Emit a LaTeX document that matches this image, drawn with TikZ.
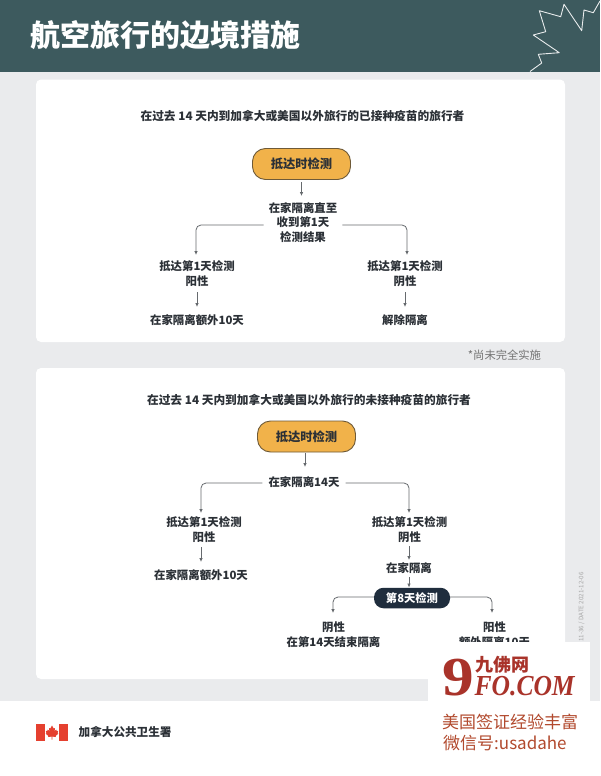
\documentclass[tikz,border=0pt]{standalone}
\usepackage{fontspec}
\setmainfont{Noto Sans CJK SC}
\newfontfamily\wmserif{Liberation Serif}
\usetikzlibrary{arrows.meta,calc}
\definecolor{headbg}{HTML}{3D5A5E}
\definecolor{pagebg}{HTML}{EAEBED}
\definecolor{inkc}{HTML}{2B3036}
\definecolor{linec}{HTML}{666A6E}
\definecolor{ambr}{HTML}{F1B24A}
\definecolor{ambre}{HTML}{6E5A38}
\definecolor{navyb}{HTML}{1F2D3D}
\definecolor{wmred}{HTML}{A9332A}
\definecolor{wmtxt}{HTML}{B24A2E}
\definecolor{flagred}{HTML}{E5402F}
\tikzset{
  panel/.style={fill=white,draw=none,rounded corners=5pt},
  lbl/.style={font=\fontsize{11.4}{14.4}\selectfont\bfseries,text=inkc,align=center,inner sep=0pt},
  heading/.style={font=\fontsize{11.7}{14}\selectfont\bfseries,text=inkc,inner sep=0pt},
  startbox/.style={draw=ambre,line width=0.9pt,fill=ambr,rounded corners=13pt,minimum width=98pt,minimum height=31pt,inner sep=0pt,font=\fontsize{12.3}{14}\selectfont\bfseries,text=inkc},
  darkbox/.style={fill=navyb,rounded corners=9.5pt,minimum width=76pt,minimum height=20.5pt,inner sep=0pt,font=\fontsize{11.3}{14}\selectfont\bfseries,text=white},
  conn/.style={draw=linec,line width=0.8pt,rounded corners=5pt,-{Latex[length=4pt,width=3.6pt]}},
}
\begin{document}
\begin{tikzpicture}[x=1pt,y=-1pt]
\useasboundingbox (0,0) rectangle (600,776);
\fill[white] (0,0) rectangle (600,776);
\fill[pagebg] (0,71) rectangle (600,700.5);
\fill[headbg] (0,0) rectangle (600,71.5);
\draw[white!88!headbg,line width=0.9pt,line join=round] (530,71.5)--(541.7,63)--(538.3,54.3)--(559.3,52.7)--(533.3,35)--(545.7,31.7)--(539.3,10.7)--(560.7,16.7)--(564,4.3)--(581.7,30.7)--(584,10)--(593.3,12.7)--(600,1);
\node[anchor=west,inner sep=0pt,text=white,font=\fontsize{30}{34}\selectfont\bfseries] (title) at (30.5,35) {航空旅行的边境措施};
\fill[panel] (36,79.5) rectangle (565,342);
\fill[panel] (36,368) rectangle (565,679);
\node[font=\fontsize{11.3}{14}\selectfont,text=black!55,inner sep=0pt] (note) at (504.5,355) {*尚未完全实施};
\node[rotate=90,anchor=east,inner sep=0pt,font=\fontsize{6.2}{7}\selectfont,text=black!35] (stamp) at (581.5,572) {11-36 / DATE 2021-12-06};

% first panel
\node[heading] (h1) at (302.5,116) {在过去 14 天内到加拿大或美国以外旅行的已接种疫苗的旅行者};
\node[startbox] (a1) at (301.5,164) {抵达时检测};
\node[lbl,inner xsep=5pt] (b1) at (303,222.5) {在家隔离直至\\收到第1天\\检测结果};
\node[lbl] (c1) at (197,273.5) {抵达第1天检测\\阳性};
\node[lbl] (d1) at (405,273.5) {抵达第1天检测\\阴性};
\node[lbl] (e1) at (197,320) {在家隔离额外10天};
\node[lbl] (f1) at (405,320) {解除隔离};
\coordinate (a1s) at (301.5,182);
\coordinate (a1e) at (301.5,196);
\coordinate (c1t) at (196,255);
\coordinate (d1t) at (407,255);
\coordinate (c1s) at (197,292);
\coordinate (e1t) at (197,307);
\coordinate (d1s) at (405,292);
\coordinate (f1t) at (405,307);
\draw[conn] (a1s) -- (a1e);
\draw[conn] ([yshift=-2.5pt]b1.west) -- ++(-30,0) -| (c1t);
\draw[conn] ([yshift=-2.5pt]b1.east) -- ++(30,0) -| (d1t);
\draw[conn] (c1s) -- (e1t);
\draw[conn] (d1s) -- (f1t);

% second panel
\node[heading] (h2) at (309,400) {在过去 14 天内到加拿大或美国以外旅行的未接种疫苗的旅行者};
\node[startbox] (a2) at (306.5,436.5) {抵达时检测};
\node[lbl,inner xsep=6pt] (b2) at (304,482) {在家隔离14天};
\node[lbl] (c2) at (204,529.5) {抵达第1天检测\\阳性};
\node[lbl] (d2) at (409.5,529.5) {抵达第1天检测\\阴性};
\node[lbl] (e2) at (201,575) {在家隔离额外10天};
\node[lbl] (f2) at (409,568) {在家隔离};
\node[darkbox] (g2) at (412,598) {第8天检测};
\node[lbl] (h2a) at (333.5,634.5) {阴性\\在第14天结束隔离};
\node[lbl] (i2) at (494.5,634.5) {阳性\\额外隔离10天};
\coordinate (a2s) at (305,453);
\coordinate (a2e) at (305,467);
\coordinate (c2t) at (201,513);
\coordinate (d2t) at (409,513);
\coordinate (e2t) at (201,562);
\coordinate (e2s) at (201,547);
\coordinate (d2s) at (409,546);
\coordinate (f2t) at (409,560);
\coordinate (f2s) at (409,577);
\coordinate (g2t) at (409,587.5);
\coordinate (h2t) at (333,613);
\coordinate (i2t) at (492,613);
\draw[conn] (a2s) -- (a2e);
\draw[conn] ([yshift=-1pt]b2.west) -| (c2t);
\draw[conn] ([yshift=-1pt]b2.east) -| (d2t);
\draw[conn] (e2s) -- (e2t);
\draw[conn] (d2s) -- (f2t);
\draw[conn] (f2s) -- (g2t);
\draw[conn] ([yshift=1pt]g2.west) -| (h2t);
\draw[conn] ([yshift=1pt]g2.east) -| (i2t);

% footer
\fill[flagred] (36,724) rectangle (44.5,741);
\fill[flagred] (59,724) rectangle (68,741);
\fill[flagred] (52,725.5)--(53.7,728.5)--(55,728)--(54.6,731)--(56.2,729.6)--(56.8,731)--(58.2,730.8)--(57.6,733.2)--(58.4,733.6)--(55.6,736)--(56,737)--(52.4,736.6)--(52.4,739.5)--(51.6,739.5)--(51.6,736.6)--(48,737)--(48.4,736)--(45.6,733.6)--(46.4,733.2)--(45.8,730.8)--(47.2,731)--(47.8,729.6)--(49.4,731)--(49,728)--(50.3,728.5)--cycle;
\node[anchor=west,inner sep=0pt,font=\fontsize{11.6}{14}\selectfont\bfseries,text=inkc] (agency) at (78.5,732) {加拿大公共卫生署};

% watermark
\fill[white] (428,642) rectangle (590,700.5);
\node[anchor=base west,inner sep=0pt,xscale=1.15,text=wmred,font=\wmserif\fontsize{55}{55}\selectfont\bfseries] (wm9) at (442,695) {9};
\node[anchor=west,inner sep=0pt,text=wmred,font=\fontsize{18}{20}\selectfont\bfseries] (wmcn) at (475,665) {九佛网};
\node[anchor=base west,inner sep=0pt,xscale=0.88,text=wmred,font=\wmserif\fontsize{29}{30}\selectfont\bfseries\itshape] (wmfo) at (474.5,695) {FO.COM};
\node[anchor=west,inner sep=0pt,text=wmtxt,font=\fontsize{17}{20}\selectfont] (wm1) at (442,722) {美国签证经验丰富};
\node[anchor=west,inner sep=0pt,text=wmtxt,font=\fontsize{17}{20}\selectfont] (wm2) at (443,743) {微信号:usadahe};
\end{tikzpicture}
\end{document}
